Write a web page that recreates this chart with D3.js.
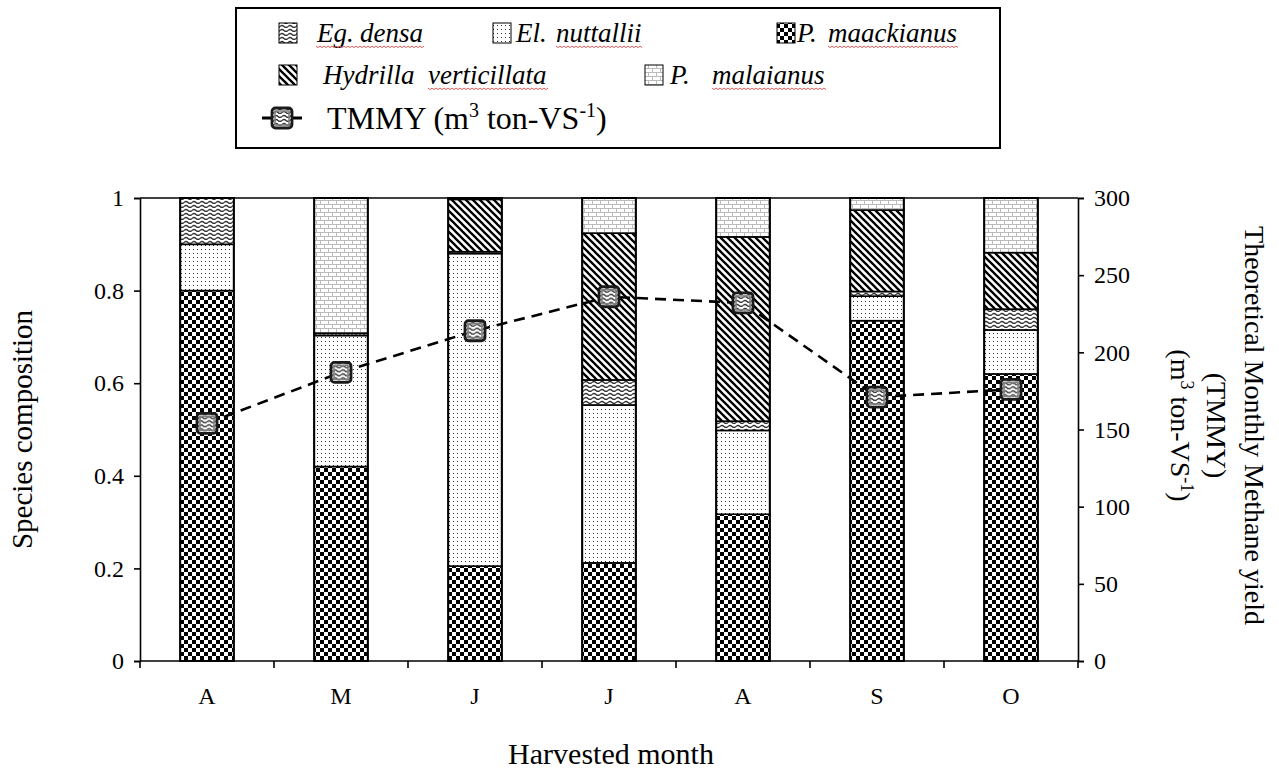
<!DOCTYPE html>
<html>
<head>
<meta charset="utf-8">
<script src="https://cdn.jsdelivr.net/npm/d3@7"></script>
<style>
  html, body { margin: 0; padding: 0; background: #fff; }
  svg { display: block; font-family: "Liberation Serif", "Times New Roman", serif; }
</style>
</head>
<body>
<svg id="chart" width="1279" height="774"></svg>
<script>
// Harvest months (April – October)
const months = ["A", "M", "J", "J", "A", "S", "O"];

// Species composition (fraction of biomass), stacked bottom to top
const pMaackianus = [0.800, 0.420, 0.205, 0.212, 0.317, 0.735, 0.620];
const elNuttallii = [0.100, 0.283, 0.675, 0.341, 0.181, 0.053, 0.095];
const egDensa     = [0.100, 0.005, 0.004, 0.054, 0.020, 0.010, 0.045];
const hydrilla    = [0.000, 0.000, 0.113, 0.317, 0.398, 0.176, 0.122];
const pMalaianus  = [0.000, 0.292, 0.003, 0.076, 0.084, 0.026, 0.118];

// Theoretical monthly methane yield (m3 ton-VS-1)
const tmmy = [154, 187, 214, 236, 232, 171, 176];

const leftTicks = [0, 0.2, 0.4, 0.6, 0.8, 1];
const rightTicks = [0, 50, 100, 150, 200, 250, 300];

const seriesKeys = ["maackianus", "nuttallii", "densa", "hydrilla", "malaianus"];
const seriesValues = [pMaackianus, elNuttallii, egDensa, hydrilla, pMalaianus];
const patternOf = {
  maackianus: "pat-check",
  nuttallii: "pat-dots",
  densa: "pat-wave",
  hydrilla: "pat-hatch",
  malaianus: "pat-brick"
};

const rows = months.map((m, i) => {
  const r = { idx: i, month: m };
  seriesKeys.forEach((k, j) => { r[k] = seriesValues[j][i]; });
  return r;
});

const svg = d3.select("#chart");
const plot = { left: 140, right: 1078, top: 198, bottom: 661 };

// ---- fill patterns ----
const defs = svg.append("defs");

const check = defs.append("pattern").attr("id", "pat-check")
  .attr("patternUnits", "userSpaceOnUse").attr("width", 8).attr("height", 8);
check.append("rect").attr("width", 8).attr("height", 8).attr("fill", "#fff");
check.append("rect").attr("width", 4).attr("height", 4).attr("fill", "#000");
check.append("rect").attr("x", 4).attr("y", 4).attr("width", 4).attr("height", 4).attr("fill", "#000");

const dots = defs.append("pattern").attr("id", "pat-dots")
  .attr("patternUnits", "userSpaceOnUse").attr("width", 4).attr("height", 4);
dots.append("rect").attr("width", 4).attr("height", 4).attr("fill", "#fff");
dots.append("rect").attr("x", 1).attr("y", 1).attr("width", 1).attr("height", 1).attr("fill", "#333");

const wave = defs.append("pattern").attr("id", "pat-wave")
  .attr("patternUnits", "userSpaceOnUse").attr("width", 8).attr("height", 4);
wave.append("rect").attr("width", 8).attr("height", 4).attr("fill", "#fff");
wave.append("path").attr("d", "M0,2.5 Q2,0.5 4,2.5 T8,2.5")
  .attr("fill", "none").attr("stroke", "#333").attr("stroke-width", 1.2);

const hatch = defs.append("pattern").attr("id", "pat-hatch")
  .attr("patternUnits", "userSpaceOnUse").attr("width", 7).attr("height", 7);
hatch.append("rect").attr("width", 7).attr("height", 7).attr("fill", "#fff");
hatch.append("path").attr("d", "M-1,-1 L8,8 M-1,6 L1,8 M6,-1 L8,1")
  .attr("stroke", "#000").attr("stroke-width", 2.3);

const brick = defs.append("pattern").attr("id", "pat-brick")
  .attr("patternUnits", "userSpaceOnUse").attr("width", 8).attr("height", 8);
brick.append("rect").attr("width", 8).attr("height", 8).attr("fill", "#fff");
brick.append("path").attr("d", "M0,0.5 H8 M0,4.5 H8 M0.5,0.5 V4.5 M4.5,4.5 V8")
  .attr("stroke", "#bbb").attr("stroke-width", 1).attr("fill", "none");

// ---- scales ----
const x = d3.scaleBand().domain(d3.range(months.length))
  .range([plot.left, plot.right]).paddingInner(0.6).paddingOuter(0.3);
const yL = d3.scaleLinear().domain([0, 1]).range([plot.bottom, plot.top]);
const yR = d3.scaleLinear().domain([0, 300]).range([plot.bottom, plot.top]);

// ---- stacked bars ----
const stacked = d3.stack().keys(seriesKeys)(rows);
const layers = svg.append("g").selectAll("g").data(stacked).join("g")
  .attr("fill", d => `url(#${patternOf[d.key]})`);
layers.selectAll("rect").data(d => d).join("rect")
  .attr("x", d => x(d.data.idx))
  .attr("width", x.bandwidth())
  .attr("y", d => yL(d[1]))
  .attr("height", d => Math.max(0, yL(d[0]) - yL(d[1])))
  .attr("stroke", "#000").attr("stroke-width", 1.6);

// bar outlines
svg.append("g").selectAll("rect").data(rows).join("rect")
  .attr("x", d => x(d.idx)).attr("width", x.bandwidth())
  .attr("y", yL(1)).attr("height", yL(0) - yL(1))
  .attr("fill", "none").attr("stroke", "#000").attr("stroke-width", 2);

// ---- axes ----
const axisFont = 24;
const gL = svg.append("g").attr("transform", `translate(${plot.left},0)`)
  .call(d3.axisLeft(yL).tickValues(leftTicks).tickSize(6).tickPadding(10)
    .tickFormat(d => String(d)));
const gR = svg.append("g").attr("transform", `translate(${plot.right},0)`)
  .call(d3.axisRight(yR).tickValues(rightTicks).tickSize(6).tickPadding(10));
const gB = svg.append("g").attr("transform", `translate(0,${plot.bottom})`)
  .call(d3.axisBottom(x).tickSize(0).tickPadding(26).tickFormat(i => months[i]));

[gL, gR, gB].forEach(g => {
  g.select(".domain").attr("stroke", "#000").attr("stroke-width", 1.6);
  g.selectAll(".tick line").attr("stroke", "#000").attr("stroke-width", 1.6);
  g.selectAll("text").attr("font-size", axisFont).attr("fill", "#000")
    .attr("font-family", "Liberation Serif");
});
gB.select(".domain").remove();

// baseline and top frame line
svg.append("line").attr("x1", plot.left).attr("x2", plot.right)
  .attr("y1", yL(0)).attr("y2", yL(0)).attr("stroke", "#000").attr("stroke-width", 1.6);
svg.append("line").attr("x1", plot.left).attr("x2", plot.right)
  .attr("y1", yL(1)).attr("y2", yL(1)).attr("stroke", "#000").attr("stroke-width", 1.6);

// category boundary ticks
const bounds = d3.range(months.length + 1).map(i =>
  i < months.length ? x(i) - x.step() * x.paddingOuter() : plot.right);
svg.append("g").selectAll("line").data(bounds).join("line")
  .attr("x1", d => d).attr("x2", d => d)
  .attr("y1", plot.bottom).attr("y2", plot.bottom + 7)
  .attr("stroke", "#000").attr("stroke-width", 1.6);

// ---- TMMY line ----
const cx = i => x(i) + x.bandwidth() / 2;
svg.append("path").datum(tmmy)
  .attr("d", d3.line().x((d, i) => cx(i)).y(d => yR(d)))
  .attr("fill", "none").attr("stroke", "#000").attr("stroke-width", 2.6)
  .attr("stroke-dasharray", "11,7");

function marker(g, size) {
  g.append("rect").attr("x", -size / 2).attr("y", -size / 2)
    .attr("width", size).attr("height", size).attr("rx", 3.5)
    .attr("fill", "url(#pat-wave)").attr("stroke", "#1a1a1a").attr("stroke-width", 2.8);
  g.append("rect").attr("x", -size / 2 + 3).attr("y", -size / 2 + 3)
    .attr("width", size - 6).attr("height", size - 6)
    .attr("fill", "none").attr("stroke", "#808080").attr("stroke-width", 1.6);
}
svg.append("g").selectAll("g").data(tmmy).join("g")
  .attr("transform", (d, i) => `translate(${cx(i)},${yR(d)})`)
  .each(function () { marker(d3.select(this), 20); });

// ---- axis titles ----
svg.append("text")
  .attr("transform", `translate(32,${(plot.top + plot.bottom) / 2}) rotate(-90)`)
  .attr("text-anchor", "middle").attr("font-size", 29)
  .text("Species composition");

svg.append("text")
  .attr("x", 611).attr("y", 764)
  .attr("text-anchor", "middle").attr("font-size", 30)
  .text("Harvested month");

const rt = svg.append("text")
  .attr("transform", `translate(1245,${(plot.top + plot.bottom) / 2 - 4}) rotate(90)`)
  .attr("text-anchor", "middle").attr("font-size", 28);
rt.append("tspan").attr("x", 0).attr("dy", 0).text("Theoretical Monthly Methane yield");
rt.append("tspan").attr("x", 0).attr("dy", 38).text("(TMMY)");
const l3 = rt.append("tspan").attr("x", 0).attr("dy", 36);
l3.append("tspan").text("(m");
l3.append("tspan").attr("font-size", 18).attr("dy", -10).text("3");
l3.append("tspan").attr("dy", 10).text(" ton-VS");
l3.append("tspan").attr("font-size", 18).attr("dy", -10).text("-1");
l3.append("tspan").attr("dy", 10).text(")");

// ---- legend ----
const legend = svg.append("g");
legend.append("rect").attr("x", 236).attr("y", 8).attr("width", 764).attr("height", 140)
  .attr("fill", "#fff").attr("stroke", "#000").attr("stroke-width", 2);

const legendFont = 27;
// [series key, swatch x, row y, words: [text, x], underlined word indices]
const legendItems = [
  ["densa", 279, 33, [["Eg.", 317], ["densa", 360]], [0, 1]],
  ["nuttallii", 493, 33, [["El.", 516], ["nuttallii", 556]], [1]],
  ["maackianus", 777, 33, [["P.", 797], ["maackianus", 828]], [1]],
  ["hydrilla", 279, 75, [["Hydrilla", 323], ["verticillata", 428]], [1]],
  ["malaianus", 645, 75, [["P.", 670], ["malaianus", 712]], [1]]
];

function squiggle(x0, x1, y) {
  let d = `M${x0},${y}`;
  for (let xx = x0, k = 0; xx < x1; xx += 2, k++) d += ` L${xx + 2},${y + (k % 2 ? 0 : 1.6)}`;
  return d;
}

legendItems.forEach(([key, sx, ry, words, ul]) => {
  legend.append("rect").attr("x", sx).attr("y", ry - 10).attr("width", 18).attr("height", 20)
    .attr("fill", `url(#${patternOf[key]})`).attr("stroke", "#000").attr("stroke-width", 1);
  const nodes = words.map(([w, wx]) => legend.append("text")
    .attr("x", wx).attr("y", ry + 9).attr("font-size", legendFont)
    .attr("font-style", "italic").text(w));
  const first = nodes[ul[0]].node().getBBox();
  const last = nodes[ul[ul.length - 1]].node().getBBox();
  legend.append("path").attr("d", squiggle(first.x, last.x + last.width, ry + 13))
    .attr("fill", "none").attr("stroke", "#e05a5a").attr("stroke-width", 1);
});

// line + marker swatch
legend.append("line").attr("x1", 262).attr("x2", 302).attr("y1", 118).attr("y2", 118)
  .attr("stroke", "#000").attr("stroke-width", 3.2).attr("stroke-dasharray", "9,22");
marker(legend.append("g").attr("transform", "translate(282,118)"), 20);

const lt = legend.append("text").attr("x", 327).attr("y", 129).attr("font-size", 32);
lt.append("tspan").text("TMMY (m");
lt.append("tspan").attr("font-size", 20).attr("dy", -12).text("3");
lt.append("tspan").attr("dy", 12).text(" ton-VS");
lt.append("tspan").attr("font-size", 20).attr("dy", -12).text("-1");
lt.append("tspan").attr("dy", 12).text(")");
</script>
</body>
</html>
